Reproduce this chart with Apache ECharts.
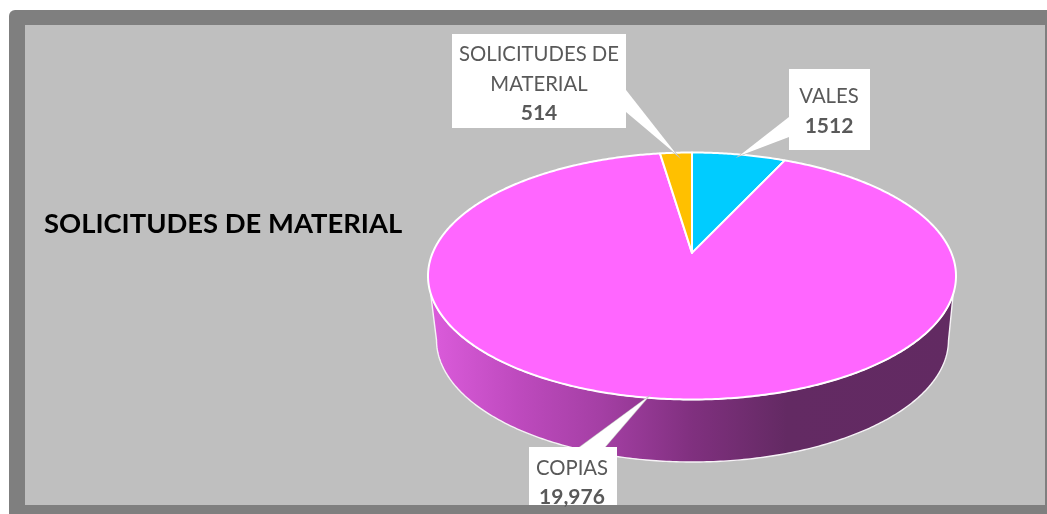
<!DOCTYPE html>
<html><head><meta charset="utf-8">
<style>html,body{margin:0;padding:0;background:#fff}#c{width:1047px;height:514px}</style>
<script src="https://cdn.jsdelivr.net/npm/echarts@6/dist/echarts.min.js"></script>
</head><body><div id="c"></div>
<script>
const categories = ['VALES', 'COPIAS', 'SOLICITUDES DE MATERIAL'];
const values = [1512, 19976, 514];
const valueLabels = ['1512', '19,976', '514'];
const nameLines = [['VALES'], ['COPIAS'], ['SOLICITUDES DE', 'MATERIAL']];
const colors = ['#00CCFF', '#FF66FF', '#FFC000'];
const chartTitle = 'SOLICITUDES DE MATERIAL';

// layout of the tilted pie
const top3d = {cx: 692, cy: 276, rx: 264, ry: 123.5, tilt: 0.187};
const base3d = {cx: 692.5, cy: 340, rx: 256, ry: 122};
const wallStops = [[0,'#DC5CDC'],[0.17,'#BE4ABE'],[0.33,'#A43FA4'],[0.5,'#80307F'],[0.68,'#632A63'],[1,'#622A62']];
const callouts = [
  {box:[789,69,81,81], tip:[739,156], base:[[789,117],[789,137]], lineYs:[96,126], cx:829},
  {box:[529,447,88,58], tip:[648,397], base:[[580,447],[605,447]], lineYs:[468,497], cx:572},
  {box:[452,34,174,94], tip:[677,155], base:[[626,90],[626,112]], lineYs:[54,84,113], cx:539}
];

const total = values.reduce((a,b)=>a+b,0);
const starts = []; values.reduce((a,v,i)=>{starts[i]=a; return a+v;},0);
const rad = v => v/total*2*Math.PI;
// true pie angle -> normalised point on the perspective-tilted disc
function tilted(th){
  const x=Math.sin(th), y=Math.cos(th), d=top3d.tilt, den=1+d*y;
  return [x*Math.sqrt(1-d*d)/den, (y+d)/den];
}
const onTop = n => [top3d.cx+n[0]*top3d.rx, top3d.cy-n[1]*top3d.ry];
function arc(a,b){
  const out=[], n=Math.max(2,Math.ceil((b-a)/0.01));
  for(let k=0;k<=n;k++) out.push(tilted(a+(b-a)*k/n));
  return out;
}
function renderItem(params, api){
  const i=api.value(0), v=api.value(1);
  const a=rad(starts[i]), b=a+rad(v);
  const children=[];
  // visible front wall
  const front=arc(a,b).map(n=>{
    let t=Math.atan2(n[0],n[1])*180/Math.PI; if(t<0)t+=360; return {n,t};
  }).filter(o=>o.t>=98&&o.t<=262).sort((p,q)=>p.t-q.t);
  if(front.length>1){
    const topEdge=front.map(o=>onTop(o.n));
    const botEdge=front.map(o=>{
      const tb=(90+(o.t-98)*180/164)*Math.PI/180;
      return [base3d.cx+Math.sin(tb)*base3d.rx, base3d.cy-Math.cos(tb)*base3d.ry];
    }).reverse();
    children.push({type:'polygon',shape:{points:topEdge.concat(botEdge)},
      style:{fill:new echarts.graphic.LinearGradient(top3d.cx-top3d.rx,0,top3d.cx+top3d.rx,0,
        wallStops.map(s=>({offset:s[0],color:s[1]})),true),stroke:'#f6f2f6',lineWidth:1.4}});
  }
  // top face
  children.push({type:'polygon',z2:5,shape:{points:[[top3d.cx,top3d.cy-top3d.tilt*top3d.ry]].concat(arc(a,b).map(onTop))},
    style:{fill:colors[i],stroke:'#ffffff',lineWidth:2,lineJoin:'round'}});
  return {type:'group',children};
}
function renderLabel(params, api){
  const i=api.value(0), c=callouts[i], [x,y,w,h]=c.box;
  const children=[
    {type:'polygon',shape:{points:[c.base[0],c.tip,c.base[1]]},style:{fill:'#fff',stroke:'#BFBFBF',lineWidth:1.2}},
    {type:'rect',shape:{x,y,width:w,height:h},style:{fill:'#fff'}},
    {type:'polygon',shape:{points:[c.base[0],c.tip,c.base[1]]},style:{fill:'#fff'}}
  ];
  nameLines[i].concat([valueLabels[i]]).forEach((s,k,arr)=>{
    const last=k===arr.length-1;
    children.push({type:'text',style:{text:s,x:c.cx,y:c.lineYs[k],align:'center',verticalAlign:'middle',
      fill:'#595959',fontFamily:'Lato',fontSize:last?21:20.3,fontWeight:last?'bold':'normal'}});
  });
  return {type:'group',children};
}
const seriesData = values.map((v,i)=>({name:categories[i],value:[i,v]}));
const chart = echarts.init(document.getElementById('c'),null,{renderer:'canvas'});
chart.setOption({
  animation:false,
  backgroundColor:'#ffffff',
  title:{text:chartTitle,left:44,top:211,padding:0,textStyle:{fontFamily:'Lato',fontWeight:'bold',fontSize:27.4,color:'#000'}},
  graphic:[
    {type:'rect',z:-10,shape:{x:9,y:10,width:1060,height:520,r:6},style:{fill:'#7F7F7F'}},
    {type:'rect',z:-9,shape:{x:25,y:25,width:1020,height:480},style:{fill:'#BFBFBF'}}
  ],
  series:[
    {type:'custom',coordinateSystem:'none',renderItem,data:seriesData,z:2,silent:true},
    {type:'custom',coordinateSystem:'none',renderItem:renderLabel,data:seriesData,z:3,silent:true}
  ]
});
</script></body></html>
